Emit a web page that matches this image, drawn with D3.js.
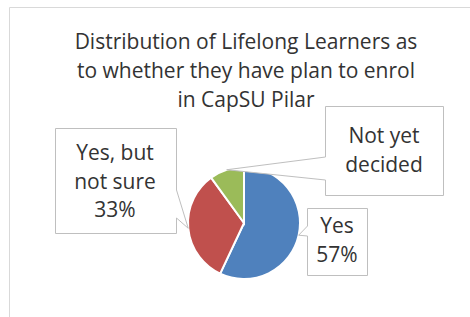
<!DOCTYPE html>
<html>
<head>
<meta charset="utf-8">
<script src="https://cdn.jsdelivr.net/npm/d3@7"></script>
<style>
  body { margin: 0; background: #fff; }
  svg text { font-family: "Open Sans", Lato, sans-serif; fill: #333; }
</style>
</head>
<body>
<div id="chart"></div>
<script>
// Données
const categories = ["Yes", "Yes, but not sure", "Not yet decided"];
const values = [57, 33, 10];
const labelLines = [["Yes", "57%"], ["Yes, but", "not sure", "33%"], ["Not yet", "decided"]];
const titleLines = ["Distribution of Lifelong Learners as", "to whether they have plan to enrol", "in CapSU Pilar"];

const width = 470;
const height = 317;
const colors = d3.scaleOrdinal(categories, ["#4F81BD", "#C0504D", "#9BBB59"]);

const svg = d3.select("#chart").append("svg")
  .attr("width", width)
  .attr("height", height);

// cadre du graphique
svg.append("path")
  .attr("d", `M9.5,${height} V7.5 H${width}`)
  .attr("fill", "none")
  .attr("stroke", "#D9D9D9");

// titre
svg.append("text")
  .attr("text-anchor", "middle")
  .style("font-size", "21px")
  .selectAll("tspan")
  .data(titleLines)
  .join("tspan")
  .attr("x", 246)
  .attr("y", (d, i) => 49 + i * 29)
  .text(d => d);

// camembert
const cx = 244, cy = 223, radius = 56;
const pie = d3.pie().value(d => d.value).sort(null);
const arc = d3.arc().innerRadius(0).outerRadius(radius);
const edge = d3.arc().innerRadius(radius).outerRadius(radius);
const arcs = pie(categories.map((c, i) => ({ name: c, value: values[i] })));

const g = svg.append("g").attr("transform", `translate(${cx},${cy})`);
g.selectAll("path")
  .data(arcs)
  .join("path")
  .attr("d", arc)
  .attr("fill", d => colors(d.data.name))
  .attr("stroke", "#fff")
  .attr("stroke-width", 2);

// bulles des étiquettes (rectangle + pointe vers la part)
const boxes = [
  { x: 307, y: 208, w: 60, h: 67, side: "left", a: 226, b: 236, tx: 337, ty: 233 },
  { x: 55, y: 128, w: 121, h: 105, side: "right", a: 190, b: 218, tx: 115, ty: 160 },
  { x: 325, y: 106, w: 118, h: 89, side: "left", a: 157, b: 180, tx: 384, ty: 143 }
];

function calloutPath(b, tip) {
  const x0 = b.x + 0.5, y0 = b.y + 0.5, x1 = b.x + b.w + 0.5, y1 = b.y + b.h + 0.5;
  if (b.side === "left") {
    return `M${x0},${y0} H${x1} V${y1} H${x0} V${b.b} L${tip[0]},${tip[1]} L${x0},${b.a} Z`;
  }
  return `M${x0},${y0} H${x1} V${b.a} L${tip[0]},${tip[1]} L${x1},${b.b} V${y1} H${x0} Z`;
}

arcs.forEach((d, i) => {
  const b = boxes[i];
  const c = edge.centroid(d);
  const tip = [cx + c[0], cy + c[1]];
  svg.append("path")
    .attr("d", calloutPath(b, tip))
    .attr("fill", "#fff")
    .attr("stroke", "#BFBFBF");
  svg.append("text")
    .attr("text-anchor", "middle")
    .style("font-size", "21px")
    .selectAll("tspan")
    .data(labelLines[i])
    .join("tspan")
    .attr("x", b.tx)
    .attr("y", (t, j) => b.ty + j * 28.5)
    .text(t => t);
});
</script>
</body>
</html>
